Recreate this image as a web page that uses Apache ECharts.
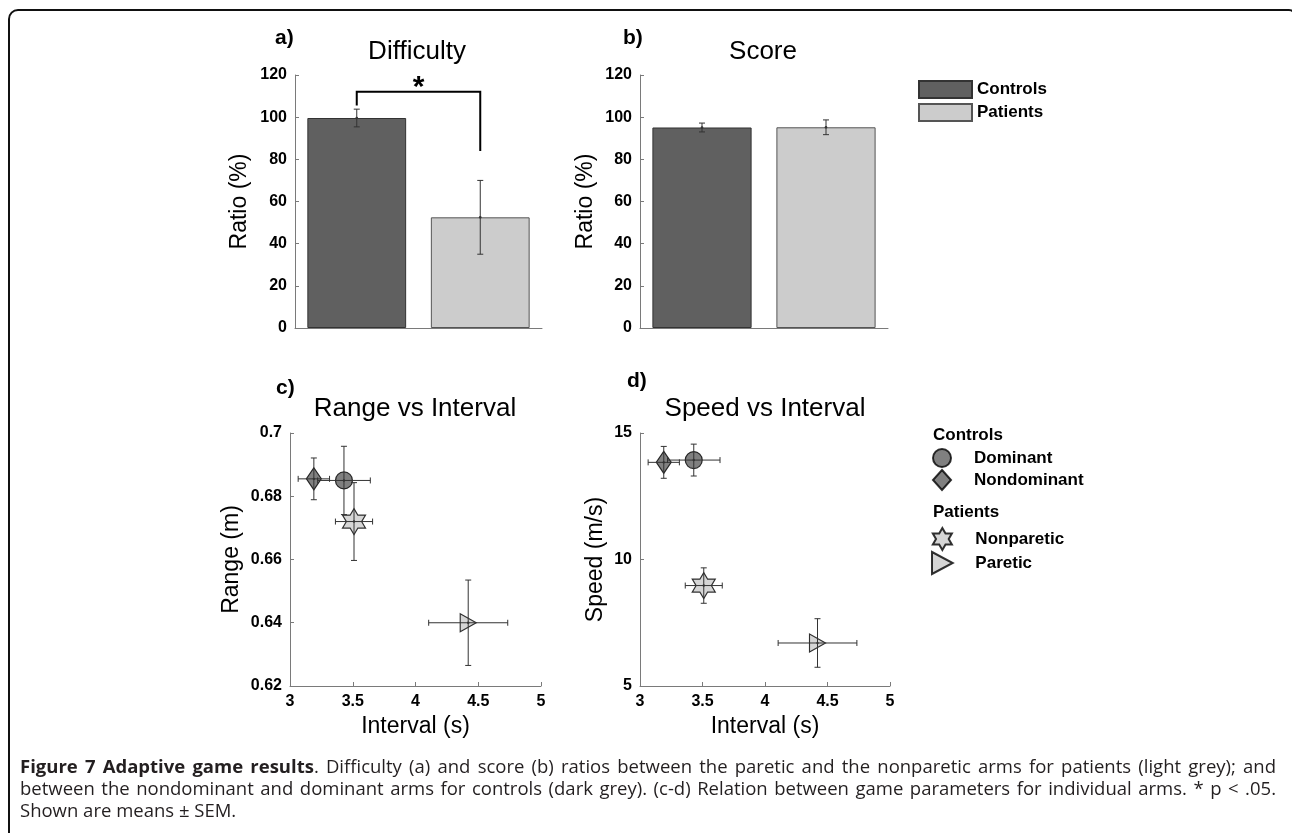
<!DOCTYPE html>
<html>
<head>
<meta charset="utf-8">
<script src="https://cdn.jsdelivr.net/npm/echarts@6/dist/echarts.min.js"></script>
<style>
  html, body { margin: 0; padding: 0; background: #fff; overflow: hidden; }
  #wrap { position: relative; width: 1292px; height: 833px; overflow: hidden; }
  #chart { position: absolute; left: 0; top: 0; width: 1292px; height: 833px; }
  #frame {
    position: absolute; left: 8px; top: 9px; width: 1288px; height: 900px;
    box-sizing: border-box; border: 2px solid #111; border-radius: 10px 7px 0 0;
    pointer-events: none;
  }
  #caption {
    position: absolute; left: 20px; top: 755px; width: 1256px;
    font-family: "Open Sans", sans-serif; font-size: 18.5px; line-height: 22px; color: #231f20;
  }
  #caption div { text-align: justify; text-align-last: justify; white-space: nowrap; }
  #caption div.last { text-align-last: left; }
</style>
</head>
<body>
<div id="wrap">
  <div id="chart"></div>
  <div id="frame"></div>
  <div id="caption">
    <div><b>Figure 7 Adaptive game results</b>. Difficulty (a) and score (b) ratios between the paretic and the nonparetic arms for patients (light grey); and</div>
    <div>between the nondominant and dominant arms for controls (dark grey). (c-d) Relation between game parameters for individual arms. * p &lt; .05.</div>
    <div class="last">Shown are means ± SEM.</div>
  </div>
</div>
<script>
// bar panels (a, b)
const categories = ['Controls', 'Patients'];
const difficultyMean = [99.6, 52.5];
const difficultySem = [4.2, 17.5];
const scoreMean = [95.1, 95.2];
const scoreSem = [2.1, 3.5];
const sigBracket = [112, 105.5, 84]; // bracket height, left leg end, right leg end
const ratioTicks = [0, 20, 40, 60, 80, 100, 120];

// scatter panels (c, d)
const arms = ['Dominant', 'Nondominant', 'Nonparetic', 'Paretic'];
const intervalMean = [3.43, 3.19, 3.51, 4.42];
const intervalSem = [0.21, 0.125, 0.148, 0.315];
const rangeMean = [0.685, 0.6855, 0.672, 0.640];
const rangeSem = [0.0108, 0.0066, 0.0123, 0.0135];
const speedMean = [13.93, 13.84, 8.97, 6.70];
const speedSem = [0.63, 0.63, 0.70, 0.96];
const intervalTicks = [3, 3.5, 4, 4.5, 5];
const rangeTicks = [0.62, 0.64, 0.66, 0.68, 0.7];
const speedTicks = [5, 10, 15];

const FONT = '"Liberation Sans", Arial, sans-serif';
const DARK = '#606060', LIGHT = '#cccccc';
const AXIS = '#7a7a7a', ERR = '#333';

// six-pointed star symbol
const starPts = [];
for (let k = 0; k < 12; k++) {
  const a = (-90 + 30 * k) * Math.PI / 180;
  const r = k % 2 ? 0.577 : 1;
  starPts.push((50 + 50 * r * Math.cos(a)).toFixed(2) + ' ' + (50 + 50 * r * Math.sin(a)).toFixed(2));
}
const STAR = 'path://M' + starPts.join(' L') + ' Z';
const TRI_RIGHT = 'path://M0 0 L16 8.5 L0 17 Z';

const armStyle = {
  Dominant: {symbol: 'circle', symbolSize: 17, color: DARK},
  Nondominant: {symbol: 'diamond', symbolSize: [15, 22], color: DARK},
  Nonparetic: {symbol: STAR, symbolSize: [23, 26], color: LIGHT},
  Paretic: {symbol: TRI_RIGHT, symbolSize: [16, 18], color: LIGHT}
};

const grids = [
  {left: 295, top: 75, width: 247, height: 253},
  {left: 640, top: 75, width: 248, height: 253},
  {left: 290, top: 433, width: 251, height: 253},
  {left: 640, top: 433, width: 250, height: 253}
].map(g => Object.assign({outerBoundsMode: 'none'}, g));

function valueAxis(gridIndex, ticks, extra) {
  return Object.assign({
    type: 'value', gridIndex,
    min: ticks[0], max: ticks[ticks.length - 1], interval: ticks[1] - ticks[0],
    axisLine: {show: true, lineStyle: {color: AXIS, width: 1}},
    axisTick: {show: true, inside: true, length: 4, lineStyle: {color: AXIS}},
    axisLabel: {color: '#000', fontWeight: 'bold', fontSize: 16, fontFamily: FONT, margin: 8},
    splitLine: {show: false},
    nameLocation: 'middle',
    nameTextStyle: {color: '#000', fontSize: 23, fontFamily: FONT}
  }, extra);
}

function catAxis(gridIndex) {
  return {
    type: 'category', gridIndex, data: categories,
    axisLine: {show: true, lineStyle: {color: AXIS, width: 1}},
    axisTick: {show: false}, axisLabel: {show: false}, splitLine: {show: false}
  };
}

function only(arr, i) { return arr.map((v, j) => j === i ? v : '-'); }

function barSeries(idx, means) {
  return categories.map((name, i) => ({
    type: 'bar', name, xAxisIndex: idx, yAxisIndex: idx,
    data: only(means, i), barWidth: '80%', barGap: '-100%',
    itemStyle: {color: i === 0 ? DARK : LIGHT, borderColor: i === 0 ? '#333' : '#555', borderWidth: 1}
  }));
}

function line(x1, y1, x2, y2) {
  return {type: 'line', shape: {x1, y1, x2, y2}, style: {stroke: ERR, lineWidth: 1}};
}

function barErrors(idx, means, sems) {
  return {
    type: 'custom', xAxisIndex: idx, yAxisIndex: idx, z: 5,
    data: means.map((m, i) => [i, m, sems[i]]),
    renderItem(params, api) {
      const x = api.value(0), m = api.value(1), s = api.value(2);
      const t = api.coord([x, m + s]), b = api.coord([x, m - s]), c = api.coord([x, m]);
      return {type: 'group', children: [
        line(t[0], t[1], b[0], b[1]),
        line(t[0] - 3, t[1], t[0] + 3, t[1]),
        line(b[0] - 3, b[1], b[0] + 3, b[1]),
        {type: 'circle', shape: {cx: c[0], cy: c[1], r: 1.3}, style: {fill: ERR}}
      ]};
    }
  };
}

function bracketSeries() {
  return {
    type: 'custom', xAxisIndex: 0, yAxisIndex: 0, z: 6,
    data: [[0, sigBracket[0], 1, sigBracket[1], sigBracket[2]]],
    renderItem(params, api) {
      const top0 = api.coord([api.value(0), api.value(1)]);
      const top1 = api.coord([api.value(2), api.value(1)]);
      const leg0 = api.coord([api.value(0), api.value(3)]);
      const leg1 = api.coord([api.value(2), api.value(4)]);
      const st = {stroke: '#000', lineWidth: 2};
      return {type: 'group', children: [
        {type: 'polyline', shape: {points: [[leg0[0], leg0[1]], top0, top1, [leg1[0], leg1[1]]]}, style: Object.assign({fill: null}, st)},
        {type: 'text', x: (top0[0] + top1[0]) / 2, y: top0[1] - 4,
          style: {text: '*', font: 'bold 30px ' + FONT, fill: '#000', align: 'center', verticalAlign: 'middle', textAlign: 'center', textVerticalAlign: 'middle'}}
      ]};
    }
  };
}

function scatterSeries(idx, ys) {
  return arms.map((name, i) => ({
    type: 'scatter', name, xAxisIndex: idx, yAxisIndex: idx, z: 3,
    data: [[intervalMean[i], ys[i]]],
    symbol: armStyle[name].symbol, symbolSize: armStyle[name].symbolSize,
    itemStyle: {color: armStyle[name].color, borderColor: '#000', borderWidth: 1.2}
  }));
}

function scatterErrors(idx, ys, ySems) {
  return {
    type: 'custom', xAxisIndex: idx, yAxisIndex: idx, z: 5,
    data: arms.map((a, i) => [intervalMean[i], ys[i], intervalSem[i], ySems[i]]),
    renderItem(params, api) {
      const x = api.value(0), y = api.value(1), ex = api.value(2), ey = api.value(3);
      const L = api.coord([x - ex, y]), R = api.coord([x + ex, y]);
      const T = api.coord([x, y + ey]), B = api.coord([x, y - ey]), C = api.coord([x, y]);
      return {type: 'group', children: [
        line(L[0], L[1], R[0], R[1]),
        line(T[0], T[1], B[0], B[1]),
        line(L[0], L[1] - 3, L[0], L[1] + 3),
        line(R[0], R[1] - 3, R[0], R[1] + 3),
        line(T[0] - 3, T[1], T[0] + 3, T[1]),
        line(B[0] - 3, B[1], B[0] + 3, B[1]),
        {type: 'circle', shape: {cx: C[0], cy: C[1], r: 1.2}, style: {fill: ERR}}
      ]};
    }
  };
}

function txt(x, y, text, font, align) {
  return {type: 'text', x, y, silent: true,
    style: {text, font, fill: '#000', align: align || 'center', verticalAlign: 'middle',
      textAlign: align || 'center', textVerticalAlign: 'middle'}};
}

const legendText = {fontFamily: FONT, fontSize: 17, fontWeight: 'bold', color: '#000'};

const chart = echarts.init(document.getElementById('chart'));
chart.setOption({
  animation: false,
  grid: grids,
  xAxis: [
    catAxis(0), catAxis(1),
    valueAxis(2, intervalTicks, {name: 'Interval (s)', nameGap: 29}),
    valueAxis(3, intervalTicks, {name: 'Interval (s)', nameGap: 29})
  ],
  yAxis: [
    valueAxis(0, ratioTicks, {name: 'Ratio (%)', nameGap: 44}),
    valueAxis(1, ratioTicks, {name: 'Ratio (%)', nameGap: 43}),
    valueAxis(2, rangeTicks, {name: 'Range (m)', nameGap: 47}),
    valueAxis(3, speedTicks, {name: 'Speed (m/s)', nameGap: 33})
  ],
  legend: [
    {orient: 'vertical', left: 913, top: 75, icon: 'rect', itemWidth: 53, itemHeight: 17, itemGap: 4,
      data: categories, selectedMode: false,
      textStyle: Object.assign({lineHeight: 17}, legendText)},
    {orient: 'vertical', left: 927, top: 443, itemWidth: 18, itemHeight: 20, itemGap: 1,
      data: ['Dominant', 'Nondominant'], selectedMode: false,
      textStyle: Object.assign({padding: [0, 0, 0, 18]}, legendText)},
    {orient: 'vertical', left: 926, top: 522, itemWidth: 22, itemHeight: 22, itemGap: 0,
      data: ['Nonparetic', 'Paretic'], selectedMode: false,
      textStyle: Object.assign({padding: [0, 0, 0, 17]}, legendText)}
  ],
  graphic: [
    txt(275, 38, 'a)', 'bold 21px ' + FONT, 'left'),
    txt(623, 38, 'b)', 'bold 21px ' + FONT, 'left'),
    txt(276, 388, 'c)', 'bold 21px ' + FONT, 'left'),
    txt(627, 381, 'd)', 'bold 21px ' + FONT, 'left'),
    txt(417, 52, 'Difficulty', '26px ' + FONT),
    txt(763, 52, 'Score', '26px ' + FONT),
    txt(415, 409, 'Range vs Interval', '26px ' + FONT),
    txt(765, 409, 'Speed vs Interval', '26px ' + FONT),
    txt(933, 435, 'Controls', 'bold 17px ' + FONT, 'left'),
    txt(933, 512, 'Patients', 'bold 17px ' + FONT, 'left')
  ],
  series: [
    ...barSeries(0, difficultyMean),
    ...barSeries(1, scoreMean),
    barErrors(0, difficultyMean, difficultySem),
    barErrors(1, scoreMean, scoreSem),
    bracketSeries(),
    ...scatterSeries(2, rangeMean),
    ...scatterSeries(3, speedMean),
    scatterErrors(2, rangeMean, rangeSem),
    scatterErrors(3, speedMean, speedSem)
  ]
});
</script>
</body>
</html>
